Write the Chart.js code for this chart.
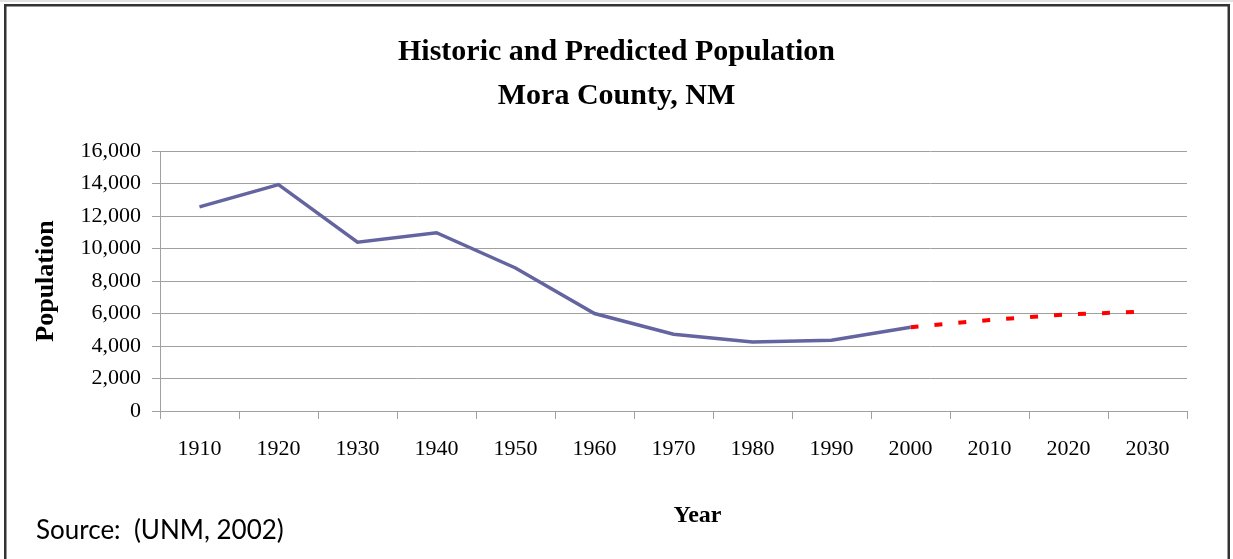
<!DOCTYPE html>
<html>
<head>
<meta charset="utf-8">
<script src="https://cdn.jsdelivr.net/npm/chart.js@4.4.1/dist/chart.umd.min.js"></script>
<style>
  html, body { margin: 0; padding: 0; background: #ffffff; }
  #wrap { width: 1233px; height: 559px; }
</style>
</head>
<body>
<div id="wrap"><canvas id="c" width="1233" height="559"></canvas></div>
<script>
// ---- data ----
const years = ['1910','1920','1930','1940','1950','1960','1970','1980','1990','2000','2010','2020','2030'];
const historic = [12560, 13930, 10390, 10970, 8800, 6000, 4720, 4250, 4350, 5160, null, null, null];
const predicted = [null, null, null, null, null, null, null, null, null, 5160, 5600, 5950, 6120];
const titleLines = ['Historic and Predicted Population', 'Mora County, NM'];
const yTitle = 'Population';
const xTitle = 'Year';
const sourceNote = 'Source:  (UNM, 2002)';
const yMin = 0, yMax = 16000, yStep = 2000;

const SERIF = "'Liberation Serif', 'Times New Roman', serif";
const GRID = '#a0a0a0';

const framePlugin = {
  id: 'frame',
  beforeDraw(chart) {
    const ctx = chart.ctx;
    ctx.save();
    ctx.fillStyle = '#ffffff';
    ctx.fillRect(0, 0, chart.width, chart.height);
    ctx.restore();
  },
  afterDraw(chart) {
    const ctx = chart.ctx;
    ctx.save();
    ctx.fillStyle = '#e2e2e2';
    ctx.fillRect(0, 0, chart.width, 2);
    ctx.strokeStyle = '#333333';
    ctx.lineWidth = 2.5;
    ctx.strokeRect(5.25, 5.25, 1223.5, 620);
    ctx.fillStyle = '#000000';
    ctx.font = "26px Lato, 'Open Sans', sans-serif";
    ctx.textBaseline = 'middle';
    ctx.textAlign = 'left';
    ctx.fillText(sourceNote, 36, 531);
    ctx.restore();
  }
};

new Chart(document.getElementById('c'), {
  type: 'line',
  data: {
    labels: years,
    datasets: [
      {
        label: 'Historic',
        data: historic,
        borderColor: '#6464a0',
        backgroundColor: '#6464a0',
        borderWidth: 3.5,
        pointRadius: 0,
        tension: 0,
        spanGaps: false
      },
      {
        label: 'Predicted',
        data: predicted,
        borderColor: '#ff0000',
        backgroundColor: '#ff0000',
        borderWidth: 4,
        borderDash: [8, 16],
        borderCapStyle: 'butt',
        pointRadius: 0,
        tension: 0,
        spanGaps: false
      }
    ]
  },
  options: {
    responsive: false,
    animation: false,
    devicePixelRatio: 1,
    layout: { padding: { top: 0, left: 0, right: 0, bottom: 0 } },
    plugins: {
      legend: { display: false },
      tooltip: { enabled: false },
      title: {
        display: true,
        text: titleLines,
        color: '#000000',
        font: { family: SERIF, size: 30, weight: 'bold', lineHeight: 1.467 },
        padding: { top: 30, bottom: 33 }
      }
    },
    scales: {
      x: {
        type: 'category',
        offset: true,
        afterFit(scale) { scale.height = 148; },
        grid: { offset: true, drawOnChartArea: false, drawTicks: true, tickLength: 8, color: GRID, lineWidth: 1 },
        border: { display: true, color: GRID, width: 1 },
        ticks: { color: '#000000', font: { family: SERIF, size: 22 }, padding: 17, maxRotation: 0, autoSkip: false },
        title: { display: true, text: '        ' + xTitle, color: '#000000', font: { family: SERIF, size: 24, weight: 'bold', lineHeight: 1.2 }, padding: { top: 0, bottom: 29 } }
      },
      y: {
        min: yMin,
        max: yMax,
        afterFit(scale) { scale.width = 160; },
        grid: { drawOnChartArea: true, drawTicks: true, tickLength: 8, color: GRID, lineWidth: 1 },
        border: { display: true, color: GRID, width: 1 },
        ticks: {
          stepSize: yStep,
          color: '#000000',
          font: { family: SERIF, size: 22 },
          padding: 11,
          callback: (v) => Number(v).toLocaleString('en-US')
        },
        title: { display: true, text: yTitle, color: '#000000', font: { family: SERIF, size: 26, weight: 'bold', lineHeight: 1.2 }, padding: { top: 31, bottom: 0 } }
      },
      rightSpace: {
        type: 'linear',
        position: 'right',
        display: true,
        afterFit(scale) { scale.width = 46; },
        grid: { display: false, drawOnChartArea: false },
        border: { display: false },
        ticks: { display: false },
        title: { display: false }
      }
    }
  },
  plugins: [framePlugin]
});
</script>
</body>
</html>
